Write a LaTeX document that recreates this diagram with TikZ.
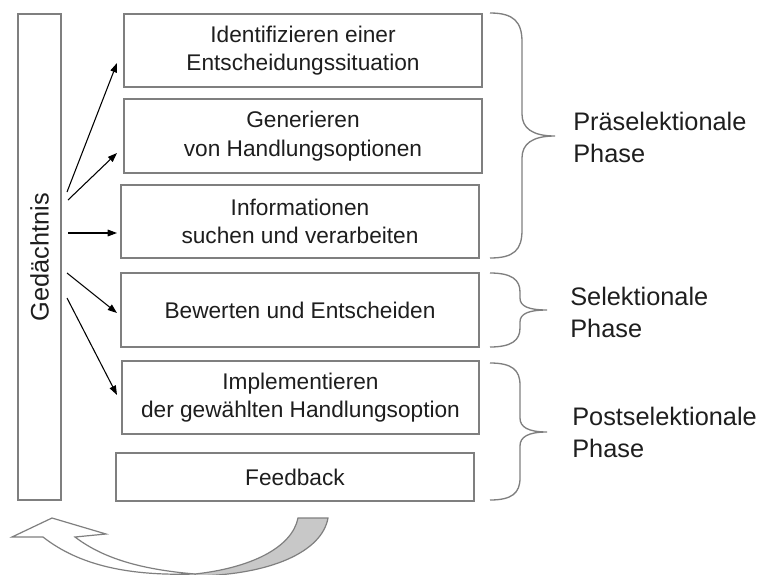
\documentclass[tikz,border=0pt]{standalone}
\usepackage{fontspec}
\setmainfont{Liberation Sans}
\usetikzlibrary{arrows.meta,calc}
\definecolor{boxgray}{HTML}{7F7F7F}
\definecolor{txt}{HTML}{1E1E1E}
\definecolor{shade}{HTML}{C8C8C8}
\begin{document}
\begin{tikzpicture}[x=0.75pt,y=-0.75pt,
  box/.style={draw=boxgray,line width=1pt,fill=white,inner sep=0pt,align=center,
    font=\fontsize{17}{21.5}\selectfont,text=txt},
  lbl/.style={inner sep=0pt,anchor=west,align=left,font=\fontsize{19}{23.5}\selectfont,text=txt},
  arr/.style={draw=black,line width=0.8pt,-{Triangle[length=7pt,width=5pt]}},
  phasebrace/.style={draw=boxgray,line width=1pt},
  bandline/.style={draw=boxgray,line width=0.9pt}]
\useasboundingbox (0,0) rectangle (761,575);

% memory bar
\node[box,rotate=90,minimum width=364.5pt,minimum height=32.25pt,font=\fontsize{19}{22}\selectfont]
  (mem) at (39.5,257) {Gedächtnis};

% process boxes
\node[box,minimum width=268.5pt,minimum height=54.75pt] (b1) at (303,50.5)
  {Identifizieren einer\\Entscheidungssituation};
\node[box,minimum width=268.5pt,minimum height=55.5pt] (b2) at (303,136)
  {Generieren\\von Handlungsoptionen};
\node[box,minimum width=268.5pt,minimum height=54.75pt] (b3) at (300,221.5)
  {Informationen\\suchen und verarbeiten};
\node[box,minimum width=268.5pt,minimum height=55.5pt] (b4) at (300,310)
  {Bewerten und Entscheiden};
\node[box,minimum width=267.75pt,minimum height=54.75pt] (b5) at (300.5,397.5)
  {Implementieren\\der gewählten Handlungsoption};
\node[box,minimum width=268.5pt,minimum height=36pt] (b6) at (295,477)
  {Feedback};

% arrow end points
\coordinate (s1) at (67,192); \coordinate (e1) at (117,63);
\coordinate (s2) at (68,200); \coordinate (e2) at (117,153);
\coordinate (s3) at (68,233); \coordinate (e3) at (117,233);
\coordinate (s4) at (67,273); \coordinate (e4) at (117,313);
\coordinate (s5) at (67,298); \coordinate (e5) at (117,395);
\draw[arr] (s1) -- (e1);
\draw[arr] (s2) -- (e2);
\draw[arr] (s3) -- (e3);
\draw[arr] (s4) -- (e4);
\draw[arr] (s5) -- (e5);

% braces
\draw[phasebrace] (490,13) .. controls (514,13) and (522,22) .. (522,42) -- (522,114)
  .. controls (522,128) and (532,136) .. (555,136)
  .. controls (532,136) and (522,144) .. (522,158) -- (522,230)
  .. controls (522,250) and (514,258) .. (490,258);
\draw[phasebrace] (490,273) .. controls (512,273) and (520,280) .. (520,292) -- (520,298)
  .. controls (520,306) and (528,310) .. (547,310)
  .. controls (528,310) and (520,314) .. (520,322) -- (520,328)
  .. controls (520,340) and (512,347) .. (490,347);
\draw[phasebrace] (490,363) .. controls (512,363) and (520,370) .. (520,385) -- (520,418)
  .. controls (520,427) and (528,432) .. (547,432)
  .. controls (528,432) and (520,437) .. (520,446) -- (520,478)
  .. controls (520,493) and (512,500) .. (490,500);

% phase labels
\node[lbl] (p1) at (573,137.5) {Präselektionale\\Phase};
\node[lbl] (p2) at (570,312.5) {Selektionale\\Phase};
\node[lbl] (p3) at (572,432.5) {Postselektionale\\Phase};

% curved feedback arrow
\draw[bandline,fill=shade] (195,574) .. controls (250,568) and (292,548) .. (298,518)
  -- (328,518) .. controls (322,552) and (270,575) .. (195,576) -- cycle;
\draw[bandline,fill=white] (43,537) -- (12,537) -- (52,518) -- (106,534) -- (75,537)
  .. controls (100,556) and (135,569) .. (195,574)
  .. controls (130,576) and (80,566) .. (43,537) -- cycle;
\end{tikzpicture}
\end{document}
